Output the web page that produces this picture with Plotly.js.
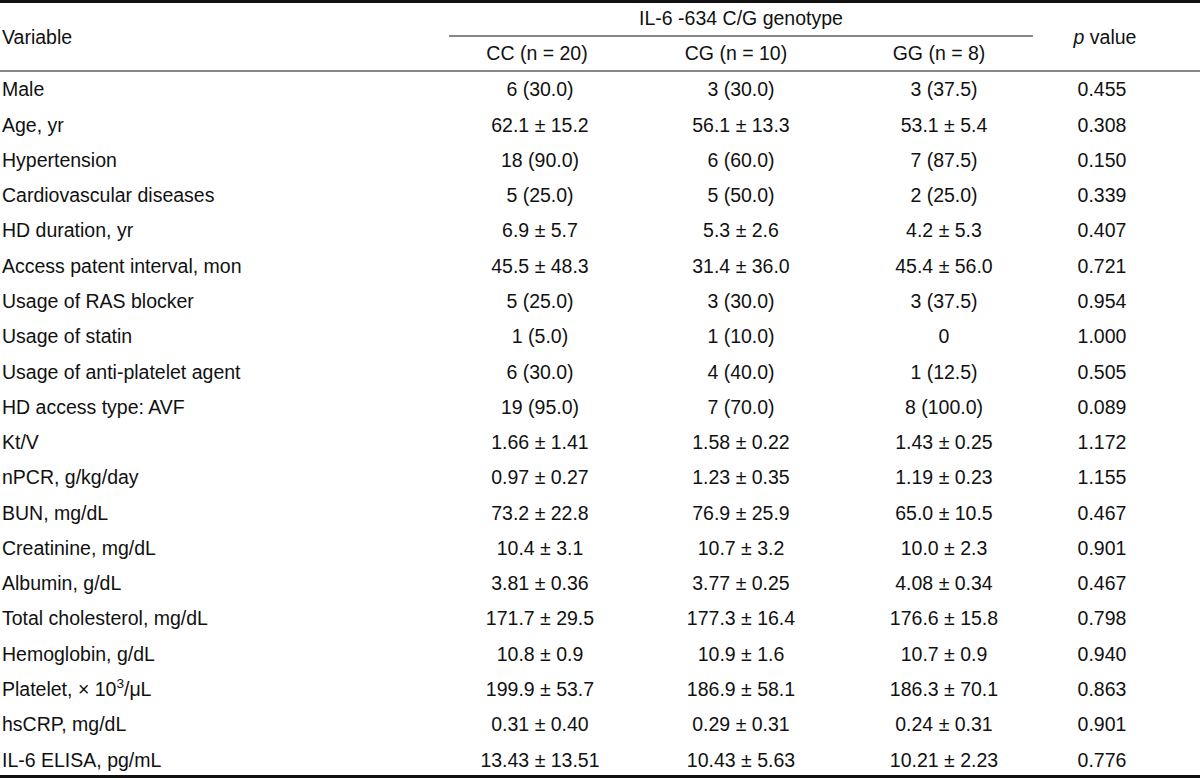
<!DOCTYPE html>
<html>
<head>
<meta charset="utf-8">
<script src="https://cdn.plot.ly/plotly-3.0.1.min.js"></script>
<style>html,body{margin:0;padding:0;background:#fff;}#chart{width:1200px;height:778px;}</style>
</head>
<body>
<div id="chart"></div>
<script>
// ---- data ----
const variables = [
  "Male", "Age, yr", "Hypertension", "Cardiovascular diseases", "HD duration, yr",
  "Access patent interval, mon", "Usage of RAS blocker", "Usage of statin",
  "Usage of anti-platelet agent", "HD access type: AVF", "Kt/V", "nPCR, g/kg/day",
  "BUN, mg/dL", "Creatinine, mg/dL", "Albumin, g/dL", "Total cholesterol, mg/dL",
  "Hemoglobin, g/dL", "Platelet, × 10<sup>3</sup>/μL", "hsCRP, mg/dL", "IL-6 ELISA, pg/mL"
];
const ccValues = [
  "6 (30.0)", "62.1 ± 15.2", "18 (90.0)", "5 (25.0)", "6.9 ± 5.7", "45.5 ± 48.3",
  "5 (25.0)", "1 (5.0)", "6 (30.0)", "19 (95.0)", "1.66 ± 1.41", "0.97 ± 0.27",
  "73.2 ± 22.8", "10.4 ± 3.1", "3.81 ± 0.36", "171.7 ± 29.5", "10.8 ± 0.9",
  "199.9 ± 53.7", "0.31 ± 0.40", "13.43 ± 13.51"
];
const cgValues = [
  "3 (30.0)", "56.1 ± 13.3", "6 (60.0)", "5 (50.0)", "5.3 ± 2.6", "31.4 ± 36.0",
  "3 (30.0)", "1 (10.0)", "4 (40.0)", "7 (70.0)", "1.58 ± 0.22", "1.23 ± 0.35",
  "76.9 ± 25.9", "10.7 ± 3.2", "3.77 ± 0.25", "177.3 ± 16.4", "10.9 ± 1.6",
  "186.9 ± 58.1", "0.29 ± 0.31", "10.43 ± 5.63"
];
const ggValues = [
  "3 (37.5)", "53.1 ± 5.4", "7 (87.5)", "2 (25.0)", "4.2 ± 5.3", "45.4 ± 56.0",
  "3 (37.5)", "0", "1 (12.5)", "8 (100.0)", "1.43 ± 0.25", "1.19 ± 0.23",
  "65.0 ± 10.5", "10.0 ± 2.3", "4.08 ± 0.34", "176.6 ± 15.8", "10.7 ± 0.9",
  "186.3 ± 70.1", "0.24 ± 0.31", "10.21 ± 2.23"
];
const pValues = [
  "0.455", "0.308", "0.150", "0.339", "0.407", "0.721", "0.954", "1.000", "0.505", "0.089",
  "1.172", "1.155", "0.467", "0.901", "0.467", "0.798", "0.940", "0.863", "0.901", "0.776"
];
const groupTitle = "IL-6 -634 C/G genotype";
const firstHeader = "Variable";
const groupHeaders = ["CC (n = 20)", "CG (n = 10)", "GG (n = 8)"];
const pHeader = "<i>p</i> value";

// ---- layout constants ----
const W = 1200, H = 778;
const ROW0_PX = 91.5, ROW_PX = 35.27;
const toY = px => (px - ROW0_PX) / ROW_PX;
const COL_X = {variable: 2, cc: 540, cg: 741, gg: 944, p: 1102};
const HEAD_X = {cc: 537, cg: 736, gg: 939, p: 1105};
const FONT = {family: "Liberation Sans, Arial, Helvetica, sans-serif", size: 19.5, color: "#111111"};

const rowIdx = variables.map((_, i) => i);

function textTrace(xs, ys, texts, pos) {
  return {
    type: "scatter", mode: "text", x: xs, y: ys, text: texts,
    textposition: pos, textfont: FONT, hoverinfo: "skip",
    cliponaxis: false, showlegend: false
  };
}

const traces = [
  textTrace(rowIdx.map(() => COL_X.variable), rowIdx, variables, "middle right"),
  textTrace(rowIdx.map(() => COL_X.cc), rowIdx, ccValues, "middle center"),
  textTrace(rowIdx.map(() => COL_X.cg), rowIdx, cgValues, "middle center"),
  textTrace(rowIdx.map(() => COL_X.gg), rowIdx, ggValues, "middle center"),
  textTrace(rowIdx.map(() => COL_X.p), rowIdx, pValues, "middle center"),
  // header rows
  textTrace([COL_X.variable], [toY(39)], [firstHeader], "middle right"),
  textTrace([(449 + 1033) / 2], [toY(20)], [groupTitle], "middle center"),
  textTrace([HEAD_X.cc, HEAD_X.cg, HEAD_X.gg], [toY(55.5), toY(55.5), toY(55.5)], groupHeaders, "middle center"),
  textTrace([HEAD_X.p], [toY(39)], [pHeader], "middle center")
];

const lineColor = "#111111";
function hline(x0, x1, ypx, w) {
  return {type: "line", xref: "x", yref: "y", x0: x0, x1: x1, y0: toY(ypx), y1: toY(ypx),
          line: {color: lineColor, width: w}};
}

const layout = {
  width: W, height: H,
  margin: {l: 0, r: 0, t: 0, b: 0, pad: 0},
  paper_bgcolor: "#ffffff", plot_bgcolor: "#ffffff",
  showlegend: false,
  xaxis: {range: [0, W], visible: false, fixedrange: true},
  yaxis: {range: [toY(H), toY(0)], visible: false, fixedrange: true},
  shapes: [
    hline(0, W, 1.5, 3),
    hline(449, 1033, 36, 1),
    hline(0, W, 71, 1),
    hline(0, W, 776.5, 3)
  ]
};

Plotly.newPlot("chart", traces, layout, {staticPlot: true, displayModeBar: false});
</script>
</body>
</html>
